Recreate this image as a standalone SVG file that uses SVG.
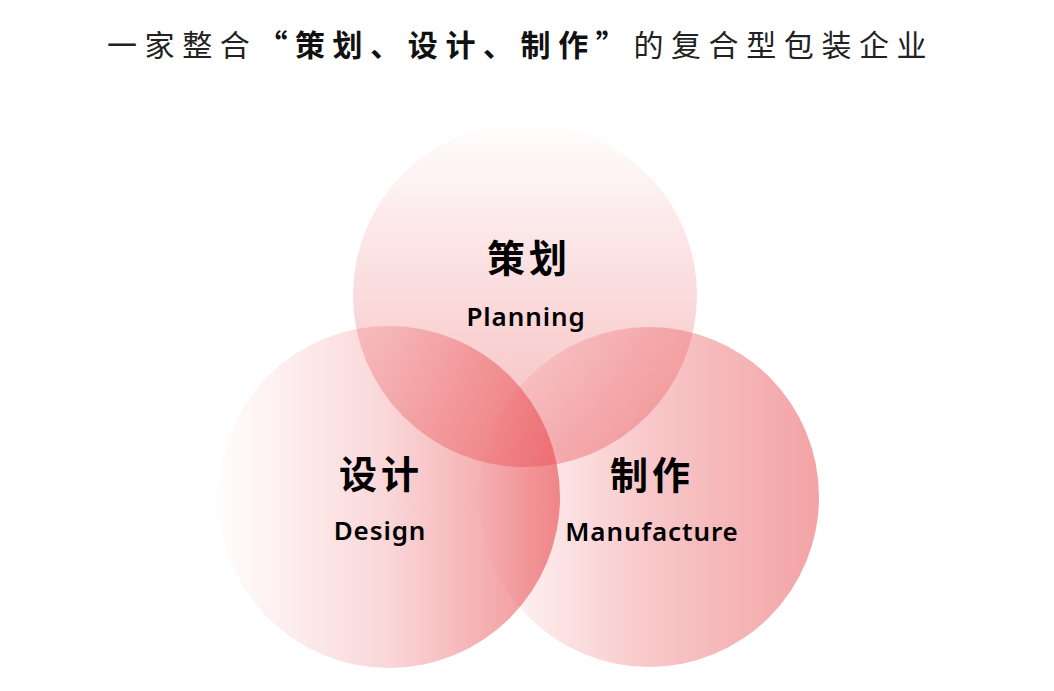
<svg xmlns="http://www.w3.org/2000/svg" width="1054" height="691" viewBox="0 0 1054 691">
<defs>
<linearGradient id="gTop" x1="0" y1="0" x2="0" y2="1">
<stop offset="0" stop-color="#e8474c" stop-opacity="0.01"/>
<stop offset="1" stop-color="#e8474c" stop-opacity="0.38"/>
</linearGradient>
<linearGradient id="gLeft" x1="0" y1="0" x2="1" y2="0">
<stop offset="0" stop-color="#e8474c" stop-opacity="0.01"/>
<stop offset="0.5" stop-color="#e8474c" stop-opacity="0.22"/>
<stop offset="1" stop-color="#e8474c" stop-opacity="0.6"/>
</linearGradient>
<linearGradient id="gRight" x1="0" y1="0" x2="1" y2="0">
<stop offset="0" stop-color="#e8474c" stop-opacity="0.02"/>
<stop offset="0.5" stop-color="#e8474c" stop-opacity="0.3"/>
<stop offset="1" stop-color="#e8474c" stop-opacity="0.5"/>
</linearGradient>
</defs>
<style>
.cn{font-family:"Noto Sans CJK SC","Noto Sans",sans-serif;font-weight:700;font-size:38px;fill:#000;text-anchor:middle;letter-spacing:4px}
.en{font-family:"Noto Sans","Open Sans",sans-serif;font-weight:600;font-size:26px;fill:#000;text-anchor:middle;letter-spacing:0.9px}
.title{font-family:"Noto Sans CJK SC",sans-serif;font-size:30px;fill:#222;letter-spacing:7.6px}
.b{font-weight:700;fill:#111}
</style>
<rect width="1054" height="691" fill="#fff"/>
<g id="title">
<text class="title" x="107" y="56">一家整合<tspan class="b">“策划、设计、制作”</tspan>的复合型包装企业</text>
</g>
<g id="design">
<circle cx="389" cy="497" r="171" fill="url(#gLeft)"/>
</g>
<g id="manufacture">
<circle cx="649" cy="497" r="170" fill="url(#gRight)"/>
</g>
<g id="planning">
<circle cx="525" cy="295" r="172" fill="url(#gTop)"/>
</g>
<g id="labels">
<text class="cn" x="529" y="272">策划</text>
<text class="en" x="526" y="326">Planning</text>
<text class="cn" x="381" y="488">设计</text>
<text class="en" x="380" y="540">Design</text>
<text class="cn" x="652" y="489">制作</text>
<text class="en" x="652" y="541">Manufacture</text>
</g>
<g id="connectors"></g>
</svg>
